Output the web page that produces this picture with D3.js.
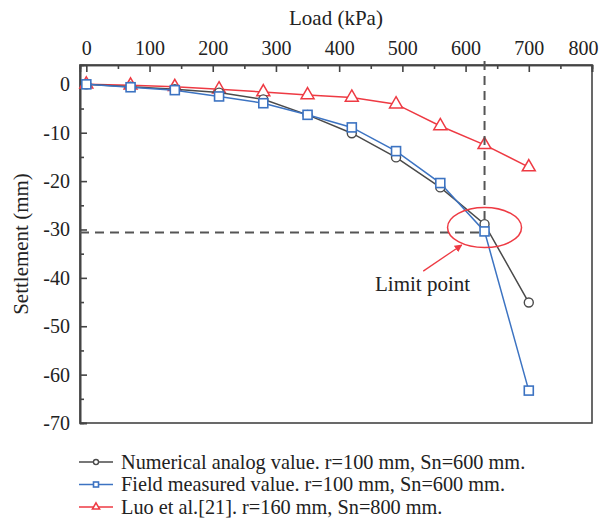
<!DOCTYPE html>
<html>
<head>
<meta charset="utf-8">
<script src="https://cdn.jsdelivr.net/npm/d3@7"></script>
<style>
  body { margin: 0; background: #fff; }
</style>
</head>
<body>
<div id="chart"></div>
<script>
"use strict";

// load steps (kPa)
const loads = [0, 70, 140, 210, 280, 350, 420, 490, 560, 630, 700];
// settlement (mm)
const numerical = [0, -0.5, -1.0, -1.7, -3.1, -6.3, -10.1, -15.1, -21.3, -28.9, -45.1];
const measured = [0, -0.6, -1.2, -2.5, -3.9, -6.3, -8.9, -13.8, -20.4, -30.4, -63.3];
const luo = [0, -0.2, -0.5, -1.0, -1.6, -2.2, -2.7, -4.1, -8.6, -12.5, -17.1];

const seriesNames = [
  "Numerical analog value. r=100 mm, Sn=600 mm.",
  "Field measured value. r=100 mm, Sn=600 mm.",
  "Luo et al.[21]. r=160 mm, Sn=800 mm."
];
const xTicks = [0, 100, 200, 300, 400, 500, 600, 700, 800];
const xMinor = [50, 150, 250, 350, 450, 550, 650, 750];
const yTicks = [0, -10, -20, -30, -40, -50, -60, -70];
const yMinor = [-5, -15, -25, -35, -45, -55, -65];
const limitLoad = 630;
const limitSettle = -30.6;

const W = 608, H = 528;
const plotL = 80, plotR = 592, plotT = 65, plotB = 423;
const textColor = "#222";
const fontFam = "Liberation Serif, DejaVu Serif, serif";

const x = d3.scaleLinear().domain([-10, 800]).range([plotL, plotR]);
const y = d3.scaleLinear().domain([-70, 4]).range([plotB, plotT]);

const svg = d3.select("#chart").append("svg")
  .attr("width", W).attr("height", H);

// frame
svg.append("rect")
  .attr("x", plotL).attr("y", plotT)
  .attr("width", plotR - plotL).attr("height", plotB - plotT)
  .attr("fill", "none").attr("stroke", "#444").attr("stroke-width", 1.6);

// axes
const xAxis = svg.append("g")
  .attr("transform", `translate(0,${plotT})`)
  .call(d3.axisTop(x).tickValues(xTicks).tickSize(-7).tickPadding(10).tickFormat(d3.format("d")));
const xAxisMinor = svg.append("g")
  .attr("transform", `translate(0,${plotT})`)
  .call(d3.axisTop(x).tickValues(xMinor).tickSize(-4).tickFormat(""));
const yAxis = svg.append("g")
  .attr("transform", `translate(${plotL},0)`)
  .call(d3.axisLeft(y).tickValues(yTicks).tickSize(-7).tickPadding(10).tickFormat(d => d));
const yAxisMinor = svg.append("g")
  .attr("transform", `translate(${plotL},0)`)
  .call(d3.axisLeft(y).tickValues(yMinor).tickSize(-4).tickFormat(""));

[xAxis, xAxisMinor, yAxis, yAxisMinor].forEach(g => {
  g.select(".domain").attr("stroke", "#444").attr("stroke-width", 1.6);
  g.selectAll(".tick line").attr("stroke", "#444").attr("stroke-width", 1.6);
  g.selectAll(".tick text")
    .attr("fill", textColor)
    .style("font-family", fontFam)
    .style("font-size", "20px");
});
// last x label is pulled in so it stays inside the figure
xAxis.selectAll(".tick text").filter(d => d === 800).attr("dx", -9);

// axis titles
svg.append("text")
  .attr("x", (plotL + plotR) / 2).attr("y", 25)
  .attr("text-anchor", "middle")
  .attr("fill", textColor)
  .style("font-family", fontFam)
  .style("font-size", "21px")
  .text("Load (kPa)");

svg.append("text")
  .attr("transform", `translate(28,${(plotT + plotB) / 2}) rotate(-90)`)
  .attr("text-anchor", "middle")
  .attr("fill", textColor)
  .style("font-family", fontFam)
  .style("font-size", "21px")
  .text("Settlement (mm)");

// series
const series = [
  { values: luo, color: "#ee3a43", shape: "triangle" },
  { values: numerical, color: "#4a4a4a", shape: "circle" },
  { values: measured, color: "#3c73c2", shape: "square" }
];

const line = d3.line().x(d => x(d[0])).y(d => y(d[1]));

function drawMarker(g, shape, color, size) {
  if (shape === "circle") {
    g.append("circle").attr("r", size * 0.5)
      .attr("fill", "#fff").attr("stroke", color).attr("stroke-width", 1.4);
  } else if (shape === "square") {
    g.append("rect").attr("x", -size / 2).attr("y", -size / 2)
      .attr("width", size).attr("height", size)
      .attr("fill", "#fff").attr("stroke", color).attr("stroke-width", 1.6);
  } else {
    g.append("path")
      .attr("d", d3.symbol(d3.symbolTriangle, size * size * 0.9)())
      .attr("fill", "#fff").attr("stroke", color).attr("stroke-width", 1.5);
  }
}

series.forEach(s => {
  const pts = loads.map((l, i) => [l, s.values[i]]);
  svg.append("path")
    .datum(pts)
    .attr("d", line)
    .attr("fill", "none")
    .attr("stroke", s.color)
    .attr("stroke-width", 1.5);
  svg.append("g").selectAll("g")
    .data(pts)
    .enter()
    .append("g")
    .attr("transform", d => `translate(${x(d[0])},${y(d[1])})`)
    .each(function () { drawMarker(d3.select(this), s.shape, s.color, 9); });
});

// limit dashed guides
svg.append("line")
  .attr("x1", x(limitLoad)).attr("x2", x(limitLoad))
  .attr("y1", plotT - 4).attr("y2", y(-28.6))
  .attr("stroke", "#555").attr("stroke-width", 2)
  .attr("stroke-dasharray", "9,6");
svg.append("line")
  .attr("x1", plotL).attr("x2", x(limitLoad))
  .attr("y1", y(limitSettle)).attr("y2", y(limitSettle))
  .attr("stroke", "#555").attr("stroke-width", 2)
  .attr("stroke-dasharray", "9,6");

// limit ellipse + arrow
svg.append("ellipse")
  .attr("cx", x(limitLoad)).attr("cy", y(-29.6))
  .attr("rx", 37).attr("ry", 20)
  .attr("fill", "none").attr("stroke", "#ee3a43").attr("stroke-width", 1.5);

svg.append("defs").append("marker")
  .attr("id", "arrow")
  .attr("viewBox", "0 0 10 10")
  .attr("refX", 9).attr("refY", 5)
  .attr("markerWidth", 6).attr("markerHeight", 6)
  .attr("orient", "auto")
  .append("path")
  .attr("d", "M0,0L10,5L0,10z")
  .attr("fill", "#ee3a43");

svg.append("line")
  .attr("x1", x(533)).attr("y1", y(-38.6))
  .attr("x2", x(594)).attr("y2", y(-33.2))
  .attr("stroke", "#ee3a43").attr("stroke-width", 1.3)
  .attr("marker-end", "url(#arrow)");

svg.append("text")
  .attr("x", 375).attr("y", 291)
  .attr("fill", textColor)
  .style("font-family", fontFam)
  .style("font-size", "21px")
  .text("Limit point");

// legend: numerical, measured, luo
const legendOrder = [series[1], series[2], series[0]];
const legend = svg.append("g");
legendOrder.forEach((s, i) => {
  const ly = 462 + i * 22.5;
  const row = legend.append("g").attr("transform", `translate(0,${ly})`);
  row.append("line")
    .attr("x1", 79).attr("x2", 113)
    .attr("stroke", s.color).attr("stroke-width", 1.5);
  const m = row.append("g").attr("transform", "translate(96,0)");
  drawMarker(m, s.shape, s.color, 5);
  row.append("text")
    .attr("x", 121).attr("y", 6.5)
    .attr("fill", textColor)
    .style("font-family", fontFam)
    .style("font-size", "20.3px")
    .text(seriesNames[i]);
});
</script>
</body>
</html>
